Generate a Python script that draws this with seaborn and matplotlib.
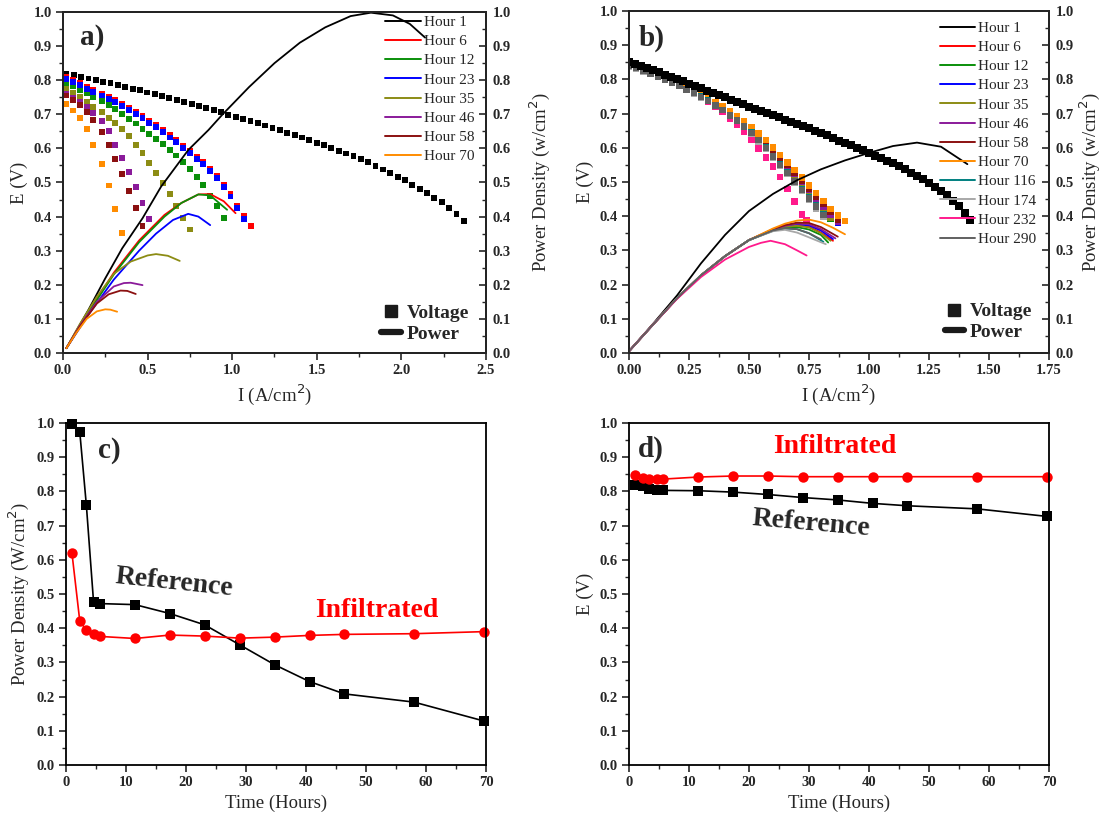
import numpy as np
import pandas as pd
import matplotlib
matplotlib.use("Agg")
import matplotlib.pyplot as plt
import seaborn as sns
from matplotlib.lines import Line2D
from matplotlib.ticker import MultipleLocator

# ---------------- data: panel a ----------------
A_I_H1 = [0.020, 0.064, 0.107, 0.151, 0.194, 0.238, 0.281, 0.325, 0.368, 0.412, 0.455, 0.499,
          0.542, 0.586, 0.629, 0.673, 0.716, 0.760, 0.803, 0.847, 0.890, 0.934, 0.977, 1.021,
          1.064, 1.108, 1.151, 1.195, 1.238, 1.282, 1.325, 1.369, 1.412, 1.456, 1.499, 1.543,
          1.586, 1.630, 1.673, 1.717, 1.760, 1.804, 1.847, 1.891, 1.934, 1.978, 2.021, 2.065,
          2.108, 2.152, 2.195, 2.239, 2.282, 2.326, 2.369]
A_V_H1 = [0.818, 0.814, 0.809, 0.805, 0.801, 0.796, 0.791, 0.786, 0.780, 0.775, 0.770, 0.764,
          0.759, 0.753, 0.747, 0.742, 0.736, 0.731, 0.724, 0.718, 0.712, 0.706, 0.699, 0.693,
          0.686, 0.680, 0.674, 0.667, 0.661, 0.654, 0.646, 0.639, 0.632, 0.624, 0.617, 0.609,
          0.601, 0.593, 0.585, 0.577, 0.569, 0.559, 0.549, 0.538, 0.528, 0.517, 0.506, 0.493,
          0.480, 0.468, 0.455, 0.442, 0.425, 0.407, 0.388]
A_GRID = [0.02, 0.06, 0.10, 0.14, 0.18, 0.23, 0.27, 0.31, 0.35, 0.39, 0.43, 0.47, 0.51, 0.55,
          0.59, 0.63, 0.67, 0.71, 0.75, 0.79, 0.83, 0.87, 0.91, 0.95, 0.99, 1.03, 1.07, 1.11]
A_V_H6 = [0.809, 0.801, 0.792, 0.781, 0.771, 0.761, 0.751, 0.741, 0.730, 0.719, 0.707, 0.694,
          0.681, 0.668, 0.654, 0.638, 0.624, 0.608, 0.592, 0.576, 0.559, 0.540, 0.520, 0.493,
          0.465, 0.430, 0.403, 0.372]
A_V_H12 = [0.791, 0.783, 0.771, 0.761, 0.750, 0.738, 0.726, 0.715, 0.701, 0.686, 0.673, 0.658,
           0.642, 0.627, 0.614, 0.595, 0.579, 0.559, 0.540, 0.517, 0.492, 0.461, 0.430, 0.397]
A_V_H23 = [0.803, 0.795, 0.786, 0.775, 0.765, 0.755, 0.745, 0.735, 0.724, 0.713, 0.701, 0.688,
           0.675, 0.662, 0.648, 0.632, 0.618, 0.602, 0.586, 0.570, 0.553, 0.534, 0.514, 0.487,
           0.459, 0.424, 0.393]
A_V_H35 = [0.775, 0.764, 0.752, 0.737, 0.722, 0.706, 0.689, 0.675, 0.658, 0.637, 0.610, 0.586,
           0.556, 0.528, 0.498, 0.466, 0.431, 0.397, 0.362]
A_V_H46 = [0.759, 0.749, 0.737, 0.722, 0.703, 0.680, 0.651, 0.610, 0.572, 0.530, 0.486, 0.441, 0.392]
A_V_H58 = [0.755, 0.741, 0.726, 0.707, 0.682, 0.649, 0.610, 0.568, 0.524, 0.475, 0.424, 0.372]
A_V_H70 = [0.729, 0.711, 0.690, 0.656, 0.610, 0.554, 0.491, 0.422, 0.353]

A_PI_H1 = [0.02, 0.15, 0.25, 0.35, 0.47, 0.58, 0.74, 0.86, 0.94, 1.10, 1.25, 1.40, 1.55, 1.70, 1.82, 1.95, 2.05, 2.14]
A_PP_H1 = [0.014, 0.126, 0.219, 0.307, 0.395, 0.488, 0.595, 0.654, 0.698, 0.780, 0.850, 0.910, 0.955, 0.988, 0.998, 0.990, 0.965, 0.925]
A_PI_H6 = [0.02, 0.15, 0.30, 0.45, 0.60, 0.70, 0.80, 0.87, 0.95, 1.02]
A_PP_H6 = [0.014, 0.120, 0.235, 0.330, 0.405, 0.440, 0.465, 0.466, 0.445, 0.410]
A_PI_H12 = [0.02, 0.15, 0.30, 0.45, 0.60, 0.70, 0.80, 0.87, 0.97]
A_PP_H12 = [0.014, 0.118, 0.230, 0.325, 0.400, 0.440, 0.465, 0.462, 0.420]
A_PI_H23 = [0.02, 0.15, 0.30, 0.45, 0.55, 0.65, 0.74, 0.80, 0.87]
A_PP_H23 = [0.014, 0.112, 0.215, 0.300, 0.350, 0.390, 0.408, 0.400, 0.375]
A_PI_H35 = [0.02, 0.10, 0.20, 0.30, 0.40, 0.50, 0.55, 0.62, 0.69]
A_PP_H35 = [0.014, 0.085, 0.165, 0.232, 0.268, 0.286, 0.290, 0.285, 0.270]
A_PI_H46 = [0.02, 0.10, 0.20, 0.30, 0.36, 0.40, 0.47]
A_PP_H46 = [0.014, 0.080, 0.150, 0.195, 0.205, 0.206, 0.199]
A_PI_H58 = [0.02, 0.10, 0.20, 0.27, 0.34, 0.38, 0.43]
A_PP_H58 = [0.014, 0.078, 0.145, 0.172, 0.183, 0.182, 0.173]
A_PI_H70 = [0.02, 0.08, 0.14, 0.20, 0.25, 0.28, 0.32]
A_PP_H70 = [0.014, 0.060, 0.100, 0.122, 0.128, 0.127, 0.121]

# ---------------- data: panel b ----------------
B_I_H1 = [0.000, 0.025, 0.050, 0.075, 0.100, 0.125, 0.150, 0.175, 0.200, 0.225, 0.250, 0.275,
          0.300, 0.325, 0.350, 0.375, 0.400, 0.425, 0.450, 0.475, 0.500, 0.525, 0.550, 0.575,
          0.600, 0.625, 0.650, 0.675, 0.700, 0.725, 0.750, 0.775, 0.800, 0.825, 0.850, 0.875,
          0.900, 0.925, 0.950, 0.975, 1.000, 1.025, 1.050, 1.075, 1.100, 1.125, 1.150, 1.175,
          1.200, 1.225, 1.250, 1.275, 1.300, 1.325, 1.350, 1.375, 1.400, 1.420]
B_V_H1 = [0.852, 0.846, 0.839, 0.833, 0.826, 0.820, 0.813, 0.807, 0.800, 0.794, 0.787, 0.780,
          0.774, 0.767, 0.760, 0.753, 0.747, 0.740, 0.733, 0.727, 0.720, 0.714, 0.707, 0.701,
          0.695, 0.689, 0.682, 0.676, 0.670, 0.663, 0.657, 0.650, 0.643, 0.636, 0.628, 0.621,
          0.614, 0.607, 0.599, 0.592, 0.585, 0.577, 0.570, 0.562, 0.554, 0.547, 0.537, 0.527,
          0.518, 0.508, 0.498, 0.486, 0.473, 0.461, 0.445, 0.430, 0.408, 0.388]
B_GRID = [0.00, 0.03, 0.06, 0.09, 0.12, 0.15, 0.18, 0.21, 0.24, 0.27, 0.30, 0.33, 0.36, 0.39,
          0.42, 0.45, 0.48, 0.51, 0.54, 0.57, 0.60, 0.63, 0.66, 0.69, 0.72, 0.75, 0.78, 0.81,
          0.84, 0.87, 0.90]
B_V_H6 = [0.845, 0.838, 0.830, 0.822, 0.814, 0.806, 0.797, 0.787, 0.777, 0.767, 0.756, 0.744,
          0.732, 0.719, 0.705, 0.690, 0.674, 0.657, 0.637, 0.616, 0.594, 0.571, 0.548, 0.525,
          0.502, 0.479, 0.456, 0.432, 0.410, 0.388]
B_V_H12 = [0.842, 0.835, 0.827, 0.819, 0.811, 0.803, 0.794, 0.784, 0.774, 0.763, 0.752, 0.740,
           0.727, 0.713, 0.698, 0.683, 0.666, 0.648, 0.627, 0.605, 0.582, 0.558, 0.534, 0.510,
           0.486, 0.462, 0.438, 0.414, 0.391]
B_V_H23 = [0.843, 0.836, 0.828, 0.820, 0.812, 0.804, 0.795, 0.786, 0.776, 0.765, 0.754, 0.742,
           0.730, 0.717, 0.703, 0.688, 0.672, 0.654, 0.634, 0.612, 0.590, 0.567, 0.543, 0.520,
           0.496, 0.472, 0.448, 0.424, 0.401, 0.380]
B_V_H35 = [0.845, 0.838, 0.830, 0.822, 0.814, 0.805, 0.796, 0.786, 0.776, 0.765, 0.754, 0.742,
           0.729, 0.716, 0.701, 0.686, 0.669, 0.651, 0.630, 0.608, 0.585, 0.561, 0.537, 0.513,
           0.489, 0.465, 0.441, 0.417, 0.394]
B_V_H46 = [0.848, 0.841, 0.833, 0.825, 0.817, 0.808, 0.799, 0.789, 0.779, 0.768, 0.757, 0.745,
           0.732, 0.719, 0.705, 0.690, 0.674, 0.656, 0.636, 0.615, 0.593, 0.570, 0.547, 0.524,
           0.500, 0.476, 0.452, 0.428, 0.405, 0.384]
B_V_H58 = [0.845, 0.838, 0.830, 0.823, 0.815, 0.807, 0.798, 0.788, 0.778, 0.768, 0.757, 0.745,
           0.733, 0.720, 0.706, 0.691, 0.675, 0.658, 0.638, 0.617, 0.595, 0.572, 0.550, 0.527,
           0.504, 0.481, 0.458, 0.435, 0.412, 0.390]
B_V_H70 = [0.845, 0.838, 0.830, 0.823, 0.815, 0.807, 0.798, 0.788, 0.778, 0.768, 0.757, 0.745,
           0.733, 0.720, 0.706, 0.692, 0.677, 0.661, 0.642, 0.622, 0.601, 0.579, 0.557, 0.535,
           0.513, 0.490, 0.467, 0.444, 0.421, 0.402, 0.386]
B_V_H116 = [0.840, 0.833, 0.825, 0.817, 0.809, 0.801, 0.792, 0.782, 0.772, 0.761, 0.750, 0.738,
            0.725, 0.711, 0.696, 0.680, 0.663, 0.644, 0.623, 0.600, 0.576, 0.552, 0.527, 0.503,
            0.479, 0.455, 0.431, 0.407]
B_V_H174 = [0.838, 0.831, 0.823, 0.815, 0.807, 0.799, 0.790, 0.780, 0.770, 0.759, 0.747, 0.735,
            0.722, 0.708, 0.693, 0.677, 0.659, 0.640, 0.619, 0.596, 0.572, 0.548, 0.523, 0.498,
            0.473, 0.448, 0.423, 0.398]
B_V_H290 = [0.840, 0.833, 0.825, 0.817, 0.809, 0.800, 0.791, 0.781, 0.771, 0.760, 0.749, 0.737,
            0.724, 0.710, 0.695, 0.679, 0.662, 0.643, 0.622, 0.599, 0.575, 0.550, 0.526, 0.501,
            0.477, 0.452, 0.428, 0.404]
B_I_H232 = [0.00, 0.03, 0.06, 0.09, 0.12, 0.15, 0.18, 0.21, 0.24, 0.27, 0.30, 0.33, 0.36, 0.39,
            0.42, 0.45, 0.48, 0.51, 0.54, 0.57, 0.60, 0.63, 0.66, 0.69, 0.72, 0.74]
B_V_H232 = [0.845, 0.837, 0.829, 0.821, 0.812, 0.803, 0.793, 0.783, 0.772, 0.760, 0.748, 0.735,
            0.720, 0.704, 0.686, 0.667, 0.646, 0.623, 0.598, 0.572, 0.545, 0.515, 0.480, 0.443,
            0.405, 0.389]

B_PI_H1 = [0.0, 0.1, 0.2, 0.3, 0.4, 0.5, 0.6, 0.7, 0.8, 0.9, 1.0, 1.1, 1.2, 1.3, 1.41]
B_PP_H1 = [0.005, 0.085, 0.168, 0.262, 0.345, 0.415, 0.465, 0.505, 0.537, 0.563, 0.585, 0.605, 0.615, 0.603, 0.552]
B_PI_H6 = [0.0, 0.1, 0.2, 0.3, 0.4, 0.5, 0.6, 0.65, 0.7, 0.75, 0.8, 0.85]
B_PP_H6 = [0.005, 0.083, 0.160, 0.227, 0.283, 0.330, 0.359, 0.369, 0.373, 0.369, 0.352, 0.328]
B_PI_H12 = [0.0, 0.1, 0.2, 0.3, 0.4, 0.5, 0.6, 0.65, 0.7, 0.75, 0.8, 0.83]
B_PP_H12 = [0.005, 0.083, 0.160, 0.227, 0.283, 0.330, 0.358, 0.367, 0.368, 0.361, 0.345, 0.323]
B_PI_H23 = [0.0, 0.1, 0.2, 0.3, 0.4, 0.5, 0.6, 0.65, 0.7, 0.75, 0.8, 0.85]
B_PP_H23 = [0.005, 0.083, 0.160, 0.227, 0.283, 0.330, 0.360, 0.371, 0.376, 0.373, 0.358, 0.333]
B_PI_H35 = [0.0, 0.1, 0.2, 0.3, 0.4, 0.5, 0.6, 0.65, 0.7, 0.75, 0.8, 0.84]
B_PP_H35 = [0.005, 0.083, 0.160, 0.227, 0.283, 0.330, 0.359, 0.369, 0.372, 0.367, 0.350, 0.328]
B_PI_H46 = [0.0, 0.1, 0.2, 0.3, 0.4, 0.5, 0.6, 0.65, 0.7, 0.75, 0.8, 0.86]
B_PP_H46 = [0.005, 0.083, 0.160, 0.227, 0.283, 0.330, 0.361, 0.372, 0.378, 0.376, 0.362, 0.335]
B_PI_H58 = [0.0, 0.1, 0.2, 0.3, 0.4, 0.5, 0.6, 0.65, 0.7, 0.75, 0.8, 0.87]
B_PP_H58 = [0.005, 0.083, 0.160, 0.227, 0.283, 0.330, 0.362, 0.374, 0.381, 0.380, 0.368, 0.340]
B_PI_H70 = [0.0, 0.1, 0.2, 0.3, 0.4, 0.5, 0.6, 0.65, 0.7, 0.75, 0.8, 0.85, 0.9]
B_PP_H70 = [0.005, 0.083, 0.160, 0.227, 0.283, 0.330, 0.364, 0.378, 0.387, 0.390, 0.382, 0.366, 0.347]
B_PI_H116 = [0.0, 0.1, 0.2, 0.3, 0.4, 0.5, 0.6, 0.65, 0.7, 0.75, 0.81]
B_PP_H116 = [0.005, 0.083, 0.160, 0.227, 0.283, 0.330, 0.357, 0.364, 0.362, 0.350, 0.325]
B_PI_H174 = [0.0, 0.1, 0.2, 0.3, 0.4, 0.5, 0.6, 0.65, 0.7, 0.75, 0.82]
B_PP_H174 = [0.005, 0.083, 0.160, 0.227, 0.283, 0.330, 0.356, 0.360, 0.352, 0.338, 0.318]
B_PI_H232 = [0.0, 0.1, 0.2, 0.3, 0.4, 0.5, 0.55, 0.59, 0.65, 0.7, 0.74]
B_PP_H232 = [0.005, 0.083, 0.158, 0.222, 0.273, 0.310, 0.322, 0.328, 0.318, 0.300, 0.285]
B_PI_H290 = [0.0, 0.1, 0.2, 0.3, 0.4, 0.5, 0.6, 0.65, 0.7, 0.75, 0.8]
B_PP_H290 = [0.005, 0.083, 0.160, 0.227, 0.283, 0.330, 0.358, 0.365, 0.362, 0.350, 0.332]

# ---------------- data: panels c, d ----------------
TIME_H = [1.0, 2.3, 3.4, 4.6, 5.7, 11.5, 17.3, 23.1, 29.0, 34.8, 40.6, 46.4, 58.0, 69.6]
C_REF = [0.998, 0.974, 0.759, 0.476, 0.472, 0.469, 0.443, 0.410, 0.351, 0.293, 0.244, 0.208, 0.184, 0.129]
C_INF = [0.619, 0.421, 0.394, 0.384, 0.376, 0.370, 0.380, 0.377, 0.371, 0.374, 0.379, 0.382, 0.384, 0.390]
D_REF = [0.818, 0.816, 0.807, 0.803, 0.803, 0.802, 0.798, 0.791, 0.782, 0.775, 0.765, 0.758, 0.749, 0.727]
D_INF = [0.848, 0.838, 0.837, 0.837, 0.836, 0.842, 0.845, 0.845, 0.843, 0.843, 0.843, 0.843, 0.843, 0.843]

HOURS_A = ["Hour 1", "Hour 6", "Hour 12", "Hour 23", "Hour 35", "Hour 46", "Hour 58", "Hour 70"]
HOURS_B = HOURS_A + ["Hour 116", "Hour 174", "Hour 232", "Hour 290"]
COLORS = {"Hour 1": "#000000", "Hour 6": "#ff0000", "Hour 12": "#0a8f0a", "Hour 23": "#0000ff",
          "Hour 35": "#8c8c14", "Hour 46": "#8a1a9a", "Hour 58": "#8b1010", "Hour 70": "#ff8c00",
          "Hour 116": "#008080", "Hour 174": "#a8a8a8", "Hour 232": "#ff1a8c", "Hour 290": "#606060"}


def long_frame(pairs, labels, xname, yname):
    frames = []
    for lab, (xs, ys) in zip(labels, pairs):
        frames.append(pd.DataFrame({xname: xs, yname: ys, "Hour": lab}))
    return pd.concat(frames, ignore_index=True)


dfa_v = long_frame([(A_I_H1, A_V_H1), (A_GRID[:len(A_V_H6)], A_V_H6), (A_GRID[:len(A_V_H12)], A_V_H12),
                    (A_GRID[:len(A_V_H23)], A_V_H23), (A_GRID[:len(A_V_H35)], A_V_H35),
                    (A_GRID[:len(A_V_H46)], A_V_H46), (A_GRID[:len(A_V_H58)], A_V_H58),
                    (A_GRID[:len(A_V_H70)], A_V_H70)], HOURS_A, "I", "V")
dfa_p = long_frame([(A_PI_H1, A_PP_H1), (A_PI_H6, A_PP_H6), (A_PI_H12, A_PP_H12), (A_PI_H23, A_PP_H23),
                    (A_PI_H35, A_PP_H35), (A_PI_H46, A_PP_H46), (A_PI_H58, A_PP_H58), (A_PI_H70, A_PP_H70)],
                   HOURS_A, "I", "P")
dfb_v1 = long_frame([(B_I_H1, B_V_H1)], ["Hour 1"], "I", "V")
dfb_v = long_frame([(B_GRID[:len(B_V_H6)], B_V_H6), (B_GRID[:len(B_V_H12)], B_V_H12),
                    (B_GRID[:len(B_V_H23)], B_V_H23), (B_GRID[:len(B_V_H35)], B_V_H35),
                    (B_GRID[:len(B_V_H46)], B_V_H46), (B_GRID[:len(B_V_H58)], B_V_H58),
                    (B_GRID[:len(B_V_H70)], B_V_H70), (B_GRID[:len(B_V_H116)], B_V_H116),
                    (B_GRID[:len(B_V_H174)], B_V_H174), (B_I_H232, B_V_H232),
                    (B_GRID[:len(B_V_H290)], B_V_H290)], HOURS_B[1:], "I", "V")
dfb_p = long_frame([(B_PI_H1, B_PP_H1), (B_PI_H6, B_PP_H6), (B_PI_H12, B_PP_H12), (B_PI_H23, B_PP_H23),
                    (B_PI_H35, B_PP_H35), (B_PI_H46, B_PP_H46), (B_PI_H58, B_PP_H58), (B_PI_H70, B_PP_H70),
                    (B_PI_H116, B_PP_H116), (B_PI_H174, B_PP_H174), (B_PI_H232, B_PP_H232),
                    (B_PI_H290, B_PP_H290)], HOURS_B, "I", "P")

# ---------------- style ----------------
sns.set_theme(style="ticks")
plt.rcParams["font.family"] = ["Liberation Serif", "DejaVu Serif"]
plt.rcParams["axes.linewidth"] = 1.3
plt.rcParams["xtick.major.width"] = 1.2
plt.rcParams["ytick.major.width"] = 1.2
plt.rcParams["xtick.minor.width"] = 1.0
plt.rcParams["ytick.minor.width"] = 1.0

TICK_FS = 10.5
LABEL_FS = 13.5

fig = plt.figure(figsize=(11.07, 8.22), dpi=100)
ax_a = fig.add_axes([0.0569, 0.5706, 0.3821, 0.4148])
ax_b = fig.add_axes([0.5682, 0.5706, 0.3794, 0.4161])
ax_c = fig.add_axes([0.0596, 0.0693, 0.3794, 0.4161])
ax_d = fig.add_axes([0.5682, 0.0693, 0.3794, 0.4161])


def style_axes(ax, xmax, xmaj, xminor, xfmt):
    ax.set_xlim(0, xmax)
    ax.set_ylim(0, 1)
    xt = np.arange(0, xmax + 1e-9, xmaj)
    ax.set_xticks(xt, [xfmt.format(v) for v in xt], fontsize=TICK_FS, fontweight="bold")
    yt = np.arange(0, 1.0001, 0.1)
    ax.set_yticks(yt, ["{:.1f}".format(v) for v in yt], fontsize=TICK_FS, fontweight="bold")
    ax.xaxis.set_minor_locator(MultipleLocator(xminor))
    ax.yaxis.set_minor_locator(MultipleLocator(0.05))
    ax.tick_params(which="both", direction="out", top=False, right=False, pad=3)
    ax.tick_params(which="major", length=5)
    ax.tick_params(which="minor", length=3)
    for s in ax.spines.values():
        s.set_visible(True)
        s.set_color("black")
        s.set_linewidth(1.3)


def style_twin(ax2):
    ax2.set_ylim(0, 1)
    yt = np.arange(0, 1.0001, 0.1)
    ax2.set_yticks(yt, ["{:.1f}".format(v) for v in yt], fontsize=TICK_FS, fontweight="bold")
    ax2.yaxis.set_minor_locator(MultipleLocator(0.05))
    ax2.tick_params(which="both", direction="in", right=True, left=False, pad=5)
    ax2.tick_params(which="major", length=5)
    ax2.tick_params(which="minor", length=3)


def add_legends(ax2, labels, bbox_h, bbox_vp, fs):
    handles = [Line2D([], [], color=COLORS[h], lw=1.4) for h in labels]
    leg = ax2.legend(handles, labels, loc="upper right", bbox_to_anchor=bbox_h,
                     frameon=False, fontsize=fs, handlelength=2.3, handletextpad=0.2,
                     labelspacing=0.36, borderaxespad=0, borderpad=0)
    ax2.add_artist(leg)
    h2 = [Line2D([], [], color="k", marker="s", ls="none", ms=8),
          Line2D([], [], color="k", lw=4.5)]
    ax2.legend(h2, ["Voltage", "Power"], loc="lower right", bbox_to_anchor=bbox_vp,
               frameon=False, prop={"weight": "bold", "size": 14}, handlelength=1.0,
               handletextpad=0.3, labelspacing=0.15, borderaxespad=0, borderpad=0)


# ---- panel a ----
style_axes(ax_a, 2.5, 0.5, 0.25, "{:.1f}")
sns.scatterplot(data=dfa_v, x="I", y="V", hue="Hour", hue_order=HOURS_A, palette=COLORS,
                marker="s", s=18, linewidth=0, legend=False, ax=ax_a)
ax_a2 = ax_a.twinx()
sns.lineplot(data=dfa_p, x="I", y="P", hue="Hour", hue_order=HOURS_A, palette=COLORS,
             sort=False, estimator=None, legend=False, lw=1.3, ax=ax_a2)
style_twin(ax_a2)
ax_a.set_xlabel("I (A/cm$^2$)", fontsize=LABEL_FS)
ax_a.set_ylabel("E (V)", fontsize=LABEL_FS, labelpad=4)
ax_a2.set_ylabel("Power Density (w/cm$^2$)", fontsize=LABEL_FS, labelpad=12)
ax_a.text(0.069, 0.924, "a)", transform=ax_a.transAxes, fontsize=21, fontweight="bold",
          ha="center", va="center")
add_legends(ax_a2, HOURS_A, (0.972, 0.99), (0.96, 0.03), 11)

# ---- panel b ----
style_axes(ax_b, 1.75, 0.25, 0.125, "{:.2f}")
sns.scatterplot(data=dfb_v, x="I", y="V", hue="Hour", hue_order=HOURS_B[1:], palette=COLORS,
                marker="s", s=22, linewidth=0, legend=False, ax=ax_b)
sns.scatterplot(data=dfb_v1, x="I", y="V", color="black",
                marker="s", s=32, linewidth=0, legend=False, ax=ax_b)
ax_b2 = ax_b.twinx()
sns.lineplot(data=dfb_p, x="I", y="P", hue="Hour", hue_order=HOURS_B, palette=COLORS,
             sort=False, estimator=None, legend=False, lw=1.3, ax=ax_b2)
style_twin(ax_b2)
ax_b.set_xlabel("I (A/cm$^2$)", fontsize=LABEL_FS)
ax_b.set_ylabel("E (V)", fontsize=LABEL_FS, labelpad=4)
ax_b2.set_ylabel("Power Density (w/cm$^2$)", fontsize=LABEL_FS, labelpad=2)
ax_b.text(0.055, 0.921, "b)", transform=ax_b.transAxes, fontsize=21, fontweight="bold",
          ha="center", va="center")
add_legends(ax_b2, HOURS_B, (0.97, 0.97), (0.96, 0.035), 11)

# ---- panel c ----
style_axes(ax_c, 70, 10, 5, "{:.0f}")
sns.lineplot(x=TIME_H, y=C_REF, color="black", marker="s", markersize=7, markeredgewidth=0,
             lw=1.2, ax=ax_c, clip_on=False)
sns.lineplot(x=TIME_H, y=C_INF, color="#ff0000", marker="o", markersize=7.5, markeredgewidth=0,
             lw=1.2, ax=ax_c, clip_on=False)
ax_c.set_xlabel("Time (Hours)", fontsize=LABEL_FS)
ax_c.set_ylabel("Power Density (W/cm$^2$)", fontsize=LABEL_FS, labelpad=4)
ax_c.text(0.102, 0.921, "c)", transform=ax_c.transAxes, fontsize=21, fontweight="bold",
          ha="center", va="center")
ax_c.text(0.257, 0.532, "Reference", transform=ax_c.transAxes, fontsize=20, fontweight="bold",
          ha="center", va="center", rotation=-6)
ax_c.text(0.740, 0.453, "Infiltrated", transform=ax_c.transAxes, fontsize=20, fontweight="bold",
          ha="center", va="center", color="#ff0000")

# ---- panel d ----
style_axes(ax_d, 70, 10, 5, "{:.0f}")
sns.lineplot(x=TIME_H, y=D_REF, color="black", marker="s", markersize=7, markeredgewidth=0,
             lw=1.2, ax=ax_d, clip_on=False)
sns.lineplot(x=TIME_H, y=D_INF, color="#ff0000", marker="o", markersize=7.5, markeredgewidth=0,
             lw=1.2, ax=ax_d, clip_on=False)
ax_d.set_xlabel("Time (Hours)", fontsize=LABEL_FS)
ax_d.set_ylabel("E (V)", fontsize=LABEL_FS, labelpad=4)
ax_d.text(0.052, 0.924, "d)", transform=ax_d.transAxes, fontsize=21, fontweight="bold",
          ha="center", va="center")
ax_d.text(0.433, 0.705, "Reference", transform=ax_d.transAxes, fontsize=20, fontweight="bold",
          ha="center", va="center", rotation=-5)
ax_d.text(0.490, 0.930, "Infiltrated", transform=ax_d.transAxes, fontsize=20, fontweight="bold",
          ha="center", va="center", color="#ff0000")

fig.savefig("out.png", dpi=100)
